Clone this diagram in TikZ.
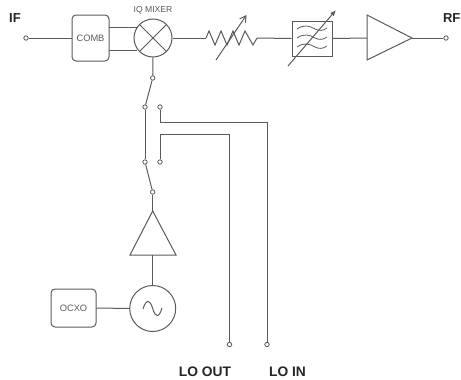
\documentclass[tikz,border=0pt]{standalone}
\usepackage{fontspec}
\setmainfont{Liberation Sans}
\usetikzlibrary{arrows.meta}
\definecolor{ink}{HTML}{5A5A5A}
\tikzset{
 wire/.style={draw=ink,line width=1pt,line join=miter},
 term/.style={circle,draw=ink,line width=0.8pt,fill=white,inner sep=0pt,minimum size=4.4pt},
 bigc/.style={circle,draw=ink,line width=1pt,inner sep=0pt},
 rbox/.style={rectangle,rounded corners=4pt,draw=ink,line width=1pt,inner sep=0pt,text=ink,font=\fontsize{9.3}{10}\selectfont},
 lab/.style={font=\fontsize{13}{14}\bfseries\selectfont,text=black!85,inner sep=0pt},
 lolab/.style={font=\fontsize{13.8}{14}\bfseries\selectfont,text=black!85,inner sep=0pt},
}
\begin{document}
\begin{tikzpicture}[x=1pt,y=-1pt]
\useasboundingbox (0,0) rectangle (461,380);
\node[lab] (iflab) at (15,18) {IF};
\node[lab,anchor=east] (rflab) at (460.6,18) {RF};
\node[font=\fontsize{8.6}{9}\selectfont,text=ink,inner sep=0pt] (iqlab) at (153,10.5) {IQ MIXER};
\node[lolab] (looutlab) at (205,372) {LO OUT};
\node[lolab] (loinlab) at (287.5,372) {LO IN};
% nodes
\node[term] (tif) at (26,38) {};
\node[rbox,minimum width=37pt,minimum height=46pt] (comb) at (90.5,38) {COMB};
\node[bigc,minimum size=38pt] (mix) at (153,38) {};
\draw[wire] (mix.north west) -- (mix.south east) (mix.north east) -- (mix.south west);
\coordinate (cu) at (109,27);
\coordinate (mu) at (137.5,27);
\coordinate (cd) at (109,50);
\coordinate (md) at (137,50);
\coordinate (ra) at (206,38);
\coordinate (rb) at (257,38);
\node[rectangle,draw=ink,line width=1pt,minimum width=40pt,minimum height=35pt,inner sep=0pt] (filt) at (312,38.5) {};
\coordinate (a1) at (367,38);
\coordinate (a1t) at (367,15);
\coordinate (a1b) at (367,60);
\coordinate (a1o) at (412,38);
\node[term] (trf) at (446,38) {};
\node[term] (s1) at (152.7,78) {};
\node[term] (s2) at (145,107) {};
\node[term] (s3) at (160,107) {};
\node[term] (s4) at (145,162) {};
\node[term] (s5) at (160,162) {};
\node[term] (s6) at (152.7,192) {};
\coordinate (a2o) at (152.7,211);
\coordinate (a2l) at (130,255);
\coordinate (a2r) at (176,255);
\coordinate (a2i) at (152.7,255);
\node[bigc,minimum size=46pt] (osc) at (152.7,308.5) {};
\node[rbox,minimum width=45pt,minimum height=38pt] (ocxo) at (73.5,308) {OCXO};
\node[term] (tout) at (229.5,344.5) {};
\node[term] (tin) at (267,344.5) {};
% connectors
\draw[wire] (tif) -- (comb);
\draw[wire] (cu) -- (mu);
\draw[wire] (cd) -- (md);
\draw[wire] (mix.east) -- (ra);
\draw[wire] (ra) -- (209,31) -- (215,45) -- (221,31) -- (227,45) -- (233,31) -- (239,45) -- (245,31) -- (253,45) -- (rb);
\draw[wire,-{Straight Barb[length=6pt,width=7pt]}] (216,60) -- (246.5,15);
\draw[wire] (rb) -- (filt.west);
\draw[wire] (filt.east) -- (a1);
\draw[wire] (a1t) -- (a1o) -- (a1b) -- cycle;
\draw[wire] (a1o) -- (trf);
\draw[wire] (mix.south) -- (s1);
\draw[wire] (s1) -- (s2);
\draw[wire] (s2) -- (s4);
\draw[wire] (s4) -- (s6);
\draw[wire] (s6) -- (a2o);
\draw[wire] (a2o) -- (a2r) -- (a2l) -- cycle;
\draw[wire] (a2i) -- (osc.north);
\draw[wire] (ocxo.east) -- (osc.west);
\draw[wire] (s3) |- (tin |- 0,122.5) -- (tin);
\draw[wire] (s5) |- (tout |- 0,134) -- (tout);
% filter waves
\draw[draw=ink,line width=0.8pt]
 (297,29) .. controls (304,24) and (310,26) .. (315,29) .. controls (319,31) and (323,31) .. (327,28)
 (297,38) .. controls (304,33) and (310,35) .. (315,38) .. controls (319,40) and (323,40) .. (327,37)
 (297,47) .. controls (304,42) and (310,44) .. (315,47) .. controls (319,49) and (323,49) .. (327,46);
\draw[wire,-{Latex[length=6pt,width=5pt]}] (288,66) -- (336,10);
% sine
\draw[draw=ink,line width=1pt] (143,309) .. controls (146,299) and (150,299) .. (152.7,308.5) .. controls (155.5,318) and (159,318) .. (162,308);
\end{tikzpicture}
\end{document}
